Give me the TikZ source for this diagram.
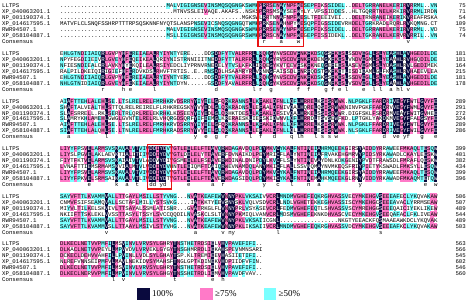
\documentclass[tikz,border=0pt]{standalone}
\usepackage{fontspec}
\setmainfont{Liberation Serif}
\setmonofont{Liberation Mono}
\usepackage{tikz}
\usetikzlibrary{positioning}

\definecolor{idshade}{RGB}{10,10,62}
\definecolor{hishade}{RGB}{255,122,200}
\definecolor{loshade}{RGB}{122,255,255}
\definecolor{motifred}{RGB}{232,20,20}

% geometry of the alignment (bp, y runs down)
\newcommand\cellw{3.43}
\newcommand\rowh{5.95}
\newcommand\seqx{60}
\newcommand\firsty{6}
\newcommand\blockh{47.6}
\newcommand\alnbase{1.9}
\newcommand\alnfont{\fontsize{5.716bp}{5.95bp}\selectfont\ttfamily}

\tikzset{
  seqtext/.style={font=\alnfont, inner sep=0pt, anchor=base west},
  endtext/.style={font=\alnfont, inner sep=0pt, anchor=base east},
  motifbox/.style={draw=motifred, line width=1.3bp},
  keybox/.style={minimum width=12.5bp, minimum height=12bp, inner sep=0pt},
  keytext/.style={font=\fontsize{9bp}{10bp}\selectfont, inner sep=0pt}
}

\newcommand\alncell[3]{\fill[#1] (#2,#3) rectangle ++(3.5,6.0);}
\newcommand\alnname[3]{\node[seqtext] (#1) at (2,#2) {#3};}
\newcommand\alnline[3]{\node[seqtext] (#1) at (\seqx,#2) {#3};}
\newcommand\alnend[3]{\node[endtext] (#1) at (466,#2) {#3};}
\newcommand\motifbox[3]{\draw[motifbox]
  ({\seqx+#2*\cellw},{\firsty+(#1-1)*\blockh-0.5*\rowh-1})
  rectangle ({\seqx+#3*\cellw},{\firsty+(#1-1)*\blockh+6.5*\rowh+1.5});}

\ExplSyntaxOn
\cs_generate_variant:Nn \tl_item:Nn { c }
\cs_generate_variant:Nn \tl_count:N { c }
\cs_generate_variant:Nn \tl_gremove_all:Nn { c }
\cs_generate_variant:Nn \tl_put_right:Nn { cx , cV }
\int_new:N \g_aln_rows_int
\int_new:N \l_aln_ncol_int
\int_new:N \l_aln_best_int
\int_new:N \l_aln_cnt_int
\bool_new:N \l_aln_ok_bool
\tl_new:N \l_aln_best_tl
\tl_new:N \l_aln_a_tl
\tl_new:N \l_aln_b_tl
\tl_new:N \l_aln_fill_tl
\tl_new:N \l_aln_cons_tl
\tl_new:N \l_aln_col_tl
\tl_new:N \l_aln_r_tl
\tl_new:N \l_aln_s_tl
\tl_const:Nn \c_aln_gap_tl { . }
\fp_new:N \l_aln_y_fp

\NewDocumentCommand \alnrow { m m m }
  {
    \int_gincr:N \g_aln_rows_int
    \tl_gclear_new:c { g_aln_name_ \int_use:N \g_aln_rows_int _tl }
    \tl_gset:cn { g_aln_name_ \int_use:N \g_aln_rows_int _tl } {#1}
    \tl_gclear_new:c { g_aln_res_ \int_use:N \g_aln_rows_int _tl }
    \tl_gset:cn { g_aln_res_ \int_use:N \g_aln_rows_int _tl } {#2}
    \tl_gremove_all:cn { g_aln_res_ \int_use:N \g_aln_rows_int _tl } { ~ }
    \tl_gclear_new:c { g_aln_end_ \int_use:N \g_aln_rows_int _tl }
    \tl_gset:cn { g_aln_end_ \int_use:N \g_aln_rows_int _tl } {#3}
  }

\cs_new_protected:Npn \aln_item:nn #1#2
  { \tl_set:Nx \l_aln_a_tl { \tl_item:cn { g_aln_res_ #1 _tl } {#2} } }

\cs_new_protected:Npn \aln_block:n #1
  {
    \int_set:Nn \l_aln_ncol_int { \tl_count:c { g_aln_res_1_tl } }
    \int_step_inline:nn { \g_aln_rows_int } { \tl_clear_new:c { l_aln_text_ ##1 _tl } }
    \tl_clear:N \l_aln_cons_tl
    \int_step_variable:nNn { \l_aln_ncol_int } \l_aln_col_tl
      {
        % most frequent residue of the column
        \int_zero:N \l_aln_best_int
        \tl_clear:N \l_aln_best_tl
        \int_step_variable:nNn { \g_aln_rows_int } \l_aln_r_tl
          {
            \aln_item:nn { \l_aln_r_tl } { \l_aln_col_tl }
            \bool_set_false:N \l_aln_ok_bool
            \tl_if_empty:NF \l_aln_a_tl
              { \tl_if_eq:NNF \l_aln_a_tl \c_aln_gap_tl { \bool_set_true:N \l_aln_ok_bool } }
            \bool_if:NT \l_aln_ok_bool
              {
                \int_zero:N \l_aln_cnt_int
                \int_step_variable:nNn { \g_aln_rows_int } \l_aln_s_tl
                  {
                    \tl_set:Nx \l_aln_b_tl { \tl_item:cn { g_aln_res_ \l_aln_s_tl _tl } { \l_aln_col_tl } }
                    \tl_if_eq:NNT \l_aln_a_tl \l_aln_b_tl { \int_incr:N \l_aln_cnt_int }
                  }
                \int_compare:nNnT { \l_aln_cnt_int } > { \l_aln_best_int }
                  {
                    \int_set_eq:NN \l_aln_best_int \l_aln_cnt_int
                    \tl_set_eq:NN \l_aln_best_tl \l_aln_a_tl
                  }
              }
          }
        % shading level
        \tl_clear:N \l_aln_fill_tl
        \int_compare:nNnTF { \l_aln_best_int } = { \g_aln_rows_int }
          { \tl_set:Nn \l_aln_fill_tl { idshade } }
          {
            \int_compare:nNnTF { 4 * \l_aln_best_int } < { 3 * \g_aln_rows_int }
              {
                \int_compare:nNnF { 2 * \l_aln_best_int } < { \g_aln_rows_int }
                  { \tl_set:Nn \l_aln_fill_tl { loshade } }
              }
              { \tl_set:Nn \l_aln_fill_tl { hishade } }
          }
        \int_compare:nNnTF { \l_aln_best_int } = { \g_aln_rows_int }
          { \tl_put_right:Nx \l_aln_cons_tl { \str_lowercase:f { \l_aln_best_tl } } }
          { \tl_put_right:Nn \l_aln_cons_tl { \phantom { x } } }
        % cells and letters
        \int_step_variable:nNn { \g_aln_rows_int } \l_aln_r_tl
          {
            \aln_item:nn { \l_aln_r_tl } { \l_aln_col_tl }
            \tl_if_empty:NT \l_aln_a_tl { \tl_set:Nn \l_aln_a_tl { \phantom { x } } }
            \bool_set_false:N \l_aln_ok_bool
            \tl_if_empty:NF \l_aln_fill_tl
              { \tl_if_eq:NNT \l_aln_a_tl \l_aln_best_tl { \bool_set_true:N \l_aln_ok_bool } }
            \bool_if:NTF \l_aln_ok_bool
              {
                \use:x
                  {
                    \exp_not:N \alncell { \l_aln_fill_tl }
                      { \fp_eval:n { \seqx + ( \l_aln_col_tl - 1 ) * \cellw } }
                      { \fp_eval:n { \firsty + ( #1 - 1 ) * \blockh + ( \l_aln_r_tl - 1.5 ) * \rowh } }
                  }
                \int_compare:nNnTF { \l_aln_best_int } = { \g_aln_rows_int }
                  {
                    \tl_put_right:cx { l_aln_text_ \l_aln_r_tl _tl }
                      { \exp_not:N \textcolor { white } { \exp_not:V \l_aln_a_tl } }
                  }
                  { \tl_put_right:cV { l_aln_text_ \l_aln_r_tl _tl } \l_aln_a_tl }
              }
              { \tl_put_right:cV { l_aln_text_ \l_aln_r_tl _tl } \l_aln_a_tl }
          }
      }
    % texts of the block
    \int_step_variable:nNn { \g_aln_rows_int } \l_aln_r_tl
      {
        \fp_set:Nn \l_aln_y_fp
          { \firsty + ( #1 - 1 ) * \blockh + ( \l_aln_r_tl - 1 ) * \rowh + \alnbase }
        \use:x
          {
            \exp_not:N \alnname { name-#1-\l_aln_r_tl } { \fp_use:N \l_aln_y_fp }
              { \exp_not:v { g_aln_name_ \l_aln_r_tl _tl } }
            \exp_not:N \alnline { seq-#1-\l_aln_r_tl } { \fp_use:N \l_aln_y_fp }
              { \exp_not:v { l_aln_text_ \l_aln_r_tl _tl } }
            \exp_not:N \alnend { end-#1-\l_aln_r_tl } { \fp_use:N \l_aln_y_fp }
              { \exp_not:v { g_aln_end_ \l_aln_r_tl _tl } }
          }
      }
    \fp_set:Nn \l_aln_y_fp
      { \firsty + ( #1 - 1 ) * \blockh + \g_aln_rows_int * \rowh + \alnbase }
    \use:x
      {
        \exp_not:N \alnname { name-#1-cons } { \fp_use:N \l_aln_y_fp } { Consensus }
        \exp_not:N \alnline { cons-#1 } { \fp_use:N \l_aln_y_fp } { \exp_not:V \l_aln_cons_tl }
      }
    \int_gzero:N \g_aln_rows_int
  }

\NewDocumentCommand \alnblock { m } { \aln_block:n {#1} }
\ExplSyntaxOff

\begin{document}
\begin{tikzpicture}[x=1bp, y=-1bp]
\useasboundingbox (0,0) rectangle (476,304);

% block 1
\alnrow{LLTPS}{.......... .......... .......... .MALVIGIGN SEVINSMQSQ GNGKSWMKPR RSENAYNPFW ESEPFIKSSI DEL..DELTG RRANELKERI RVRRML..VN}{75}
\alnrow{XP\_040063201.1}{.......... .......... .......... ...MTNVSSL EIVAQE.AKA FS..NSKSPR RSMSAYSEFW YLY.VPSSID DES..HLTGQ RRTNELKRKI RVRRMLIRDN}{71}
\alnrow{NP\_001190374.1}{.......... .......... .......... .......... .......... ...MGKSWLR RTNNAFNPFW ESLTFIEEIV EI...DELTR NRANEIKERI KVREAFRSKA}{54}
\alnrow{XP\_014617595.1}{MATVFLCLSN QFSSHRPTTT RPSQSKNNFN YQTSLANSPN SEVICSNQSQ GNGQTWMKPR KSENAHNPYW ESQPFIGSSI DEVRHDELTG RKRADLRQRL RVKQMNG.CT}{109}
\alnrow{RWR94507.1}{.......... .......... .......... .MALVIGIGN SEVINSMQSQ GNGKSWMKPR RSENAYNPFW ESEPFIKSSI DEL..DELTG RRANELKERI RVRRML..VD}{75}
\alnrow{XP\_058104887.1}{.......... .......... .......... .MSLLIGIGN SEVINSMQSQ GNGRSWMKPR RSCNAYNPFW EGEPFISSID EKL..DELTG KRANELKERV RVRRIL..VN}{74}
\alnblock{1}

% block 2
\alnrow{LLTPS}{EHLGTNDIIA IQRLGVPYHF EREIAEALRY IYNTYERE.. ..DDSDDFYT VALRFRLLRQ HGYNVSCDVF NKFKDSQGSF KESLSSDVEG LLSLYEASHL AVHGEDILDE}{181}
\alnrow{XP\_040063201.1}{NPYFEGDIIE IVRLGVEYHF EQEIKEALQR IYNISTRNNI IITNEDDFYT TALRFRLLRQ HGYRVSCDVF NKFKDENGKF KESLVNDVEG MLSLYEAAHL RVHGQDILDE}{181}
\alnrow{NP\_001190374.1}{NFIESNDIEA LCRLAVKYHY EKQILEALRS IYEDCLIYPR NVRNEDELYT VSLKFKLIRQ EGYKVTCEVF SKFKNEQGEF EESLASEVEG MLSLYDASHL RVLGEDIMEK}{164}
\alnrow{XP\_014617595.1}{RALPILDKEI QIRIGIEFHF ERDVKDSLRH VFTRTIS..E ..RNSDDLHS AAMRYRLVRN NGFAISSDLF NRFQDSTGKF KETLISDIEA MLGLFKASHL RVHAEEVLEA}{215}
\alnrow{RWR94507.1}{EHLGTNDIIA IQRLGVPYHF EREIAEALRY IYNTYERE.. ..DDSDDFYT VALRFRLLRQ HGYNVSCDVF NKFKDSKGSF KESLSSDVEG LLSLYEASHL AVHGEDILDE}{181}
\alnrow{XP\_058104887.1}{NHLGTNIDIA IQRLGVEYHF EKEIAEALRY IYNTDYN... ...GSDDFYA VALRFRLLRQ HGYKVSCDVF NKFKDSQGNF KESLVSDVEG LLSLYEAAHL AVHGEDILDE}{178}
\alnblock{2}

% block 3
\alnrow{LLTPS}{AIAFTTEHLA LEHLSE.LTS LRELRELFMR HKRVDSRRYY IYEELGFQRK RANNSLLKFA KLDFNLLQFL HRRELKSISR WWK.NLPGKL FFARDRIVEG YFWTLGVYFE}{289}
\alnrow{XP\_040063201.1}{SHAFTALVEA LTHLSTTQLR ELREIRELFL RHKREGSKYY VYEDLGLQRK RADNSLLEFA ALDFNIVQAL HQRELQSISR WWKNINVPGK FFARDRVVEG YFWMLGVYFE}{291}
\alnrow{NP\_001190374.1}{SLAFSRRELL .RKLSERLTR LQRLRELEKR HKLKDSEEYY IYEDLGLQRH KTDESLLKFA KLDFSIVQAL HRKELSSISR WWR.DIGFSK LFSRDRMVEA YFWITGVHEE}{272}
\alnrow{XP\_014617595.1}{SLAMRYKHLA MEHLGWGLGV NTELRELRLV HQRGDSQRFY IFEEMGLKRE RAESKLIEFS KIDWNVLQFL HRRDLTSVSE WFKD.LPTGK LYAKDKMVEG YFFALGSYFE}{324}
\alnrow{RWR94507.1}{AIAFTTEHLA LEHLSE.LTS LRELRELFMR HKRVDSRRYY IYEELGFQRK RANNSLLKFA KLDFNLLQFL HRRELKSISR WWK.NLPGKL FFARDRIVEG YFWTLGVYFE}{289}
\alnrow{XP\_058104887.1}{SIAFTTEHLA LQHLSE.LTN LRELRELFMR HKRADSRRYY VYEELGLQRK RANNSLLEFA KLDFNLLQLL HRRELESISR WWK.NLSGKL FFARDRIVEG YFWILGVYFE}{286}
\alnblock{3}

% block 4
\alnrow{LLTPS}{LIYYFPSVEL ARMSVSKAVA LVTVIVDDIY DVYGTLEELE LFTEAVQRWD AGAVDQLPDY MKVCYKALFN TINEIAHRMQ EEKGIRSYAI DDYRRAWEEF MKAQLTESQW}{399}
\alnrow{XP\_040063201.1}{LIYSLPGVEL AKLAEVKTIA LITIIVDDIY DVYGTLDELE LYTEAVERFD VNAIKDLPEY MRICFLALYN TINEIAFRVA KEHGMRVYPI DSYRKAWADL CKAYLEESKW}{401}
\alnrow{NP\_001190374.1}{FIYTFKTVEL ARMSVSKAIA IVTVLADDVY DIYGSMEELE LFSEAVERWD INALDNIPDY LKVCFLSLYN TINEVAYDNL KDKGENIYPV DTFRAWSDLF MRAFLQESKW}{382}
\alnrow{XP\_014617595.1}{LVNAFTTIEM SRMAMSKVIA LMTVLVDDIY DVHNTLEEIQ MFTDAIQRWE VNAMDQLANY MKICFLALLS SVNQMAYNVM KEQSFRIYPI ETYKSWADLF MKSYLLESQW}{434}
\alnrow{RWR94507.1}{LIYYFPSVEL ARMSVSKAVA LVTVIVDDIY DVYGTLEELE LFTEAVQRWD AGAVDQLPDY MKVCYKALFN TINEIAHRMQ EEKGIRSYAI DDYRRAWEEF MKAQLTESQW}{399}
\alnrow{XP\_058104887.1}{LIYYFPKVEL SRMSAIKAVA LVTLIVDDIY DTYGTLEELE LFTEAVERWD AGSIDQLPDY MKICYKALFN TINEMAHKMQ EEKGLRNYVI DDYRKAWADF MKAQMTETQW}{396}
\alnblock{4}

% block 5
\alnrow{LLTPS}{SAYVFTTLKV AMMVALLTTG AYLMSILLST YVNG...NVA TKEAFEWVNN YPKLVKSAIV VCRLMNDMVG HEFEQKRGHV ASSVECYMKE HGVSEEEAFE CLYKQVAKAW}{506}
\alnrow{XP\_040063201.1}{CNMVFSIFSE AMQVALLSCT AFLMILLYST SVKG....IA TKKTYEEVSN YSKLVQLVSD VCRLLNDLVG HETEKKEGHV ASSISCYMKE HGCSEEEAVA CLYRRMSEAW}{507}
\alnrow{NP\_001190374.1}{MIYVLTILKE LSKVIVLTTS AYALSSMLAT ISNR...GVA TRKGLFLVNN YPRLVSYASE VCRLFEDMVG HEFEQTLSHV ASSVSCYMRE HGGSEEEQAI CIYEKLIKEW}{489}
\alnrow{XP\_014617595.1}{NKIIFTTSKL EKLVVSSTTA SYLTSSYLSV CCQQDILNVA SKCLSLTVNN YPKMIQLVAN VCRLMDSMVG HEFEKNKDHV ASCVECYMKE HGVSEEQAFA CLFKLIVEAW}{544}
\alnrow{RWR94507.1}{SAYVFTTLKV AMMVALLTTG AYLMSILLST YVNG...NVA TKEAFEWVNN YPKLVKSAII CGNL...... .......... .NKGTYEEAC KFQSMAAEAW KDCLYKQVAK}{489}
\alnrow{XP\_058104887.1}{SAYVFTTLKV AMMVSLLTTA AYLMSIVLST YVHG...NVA TKEAFEWVNN YPKLIKSAII VCRLMNDMVG HEFEQKRGHV ASSVDCYMKE HGVSEEEAFK CLYKQVAKAW}{503}
\alnblock{5}

% block 6
\alnrow{LLTPS}{DLKECLNETV VPMFILMSVI NVLVRVSYLG HRYTNSTHET RDSIELVHVP AVEFIFI..}{563}
\alnrow{XP\_040063201.1}{DLKACLNETV VPEYLLMPVV DVLVRVEKLG YGYTNSGHMR RDLIEKAHSP EVNMNSARI}{566}
\alnrow{NP\_001190374.1}{DCKECLDEHV VAHFILLPVI NLLVDLSYLG HAYTSP.KLT REMIEEVHAS IIETIFI..}{545}
\alnrow{XP\_014617595.1}{NLREFVNNSE IPMFVLMAVL NEKIDVSYMA HSFTNGLGPT KDINEKVHDP IIDFVFIN.}{602}
\alnrow{RWR94507.1}{DLKECLNETV VPMFILMSVI NVLVRVSYLG HRYTNSTHET RDSIELVHVP AVEFIFI..}{546}
\alnrow{XP\_058104887.1}{DLKECLNERV VPMFILMPVI NVLVRVSYLG HGYTNSSHET RDLIEMVHVP AVDFVAV..}{560}
\alnblock{6}

% conserved motifs
\motifbox{1}{57.7}{70.9}
\motifbox{4}{25.5}{32.6}

% key
\node[keybox, fill=idshade] (key100) at (143.5,294) {};
\node[keytext, right=2bp of key100] (lab100) {100\%};
\node[keybox, fill=hishade] (key75) at (206.5,294) {};
\node[keytext, right=2bp of key75] (lab75) {≥75\%};
\node[keybox, fill=loshade] (key50) at (270,294) {};
\node[keytext, right=2bp of key50] (lab50) {≥50\%};
\end{tikzpicture}
\end{document}
